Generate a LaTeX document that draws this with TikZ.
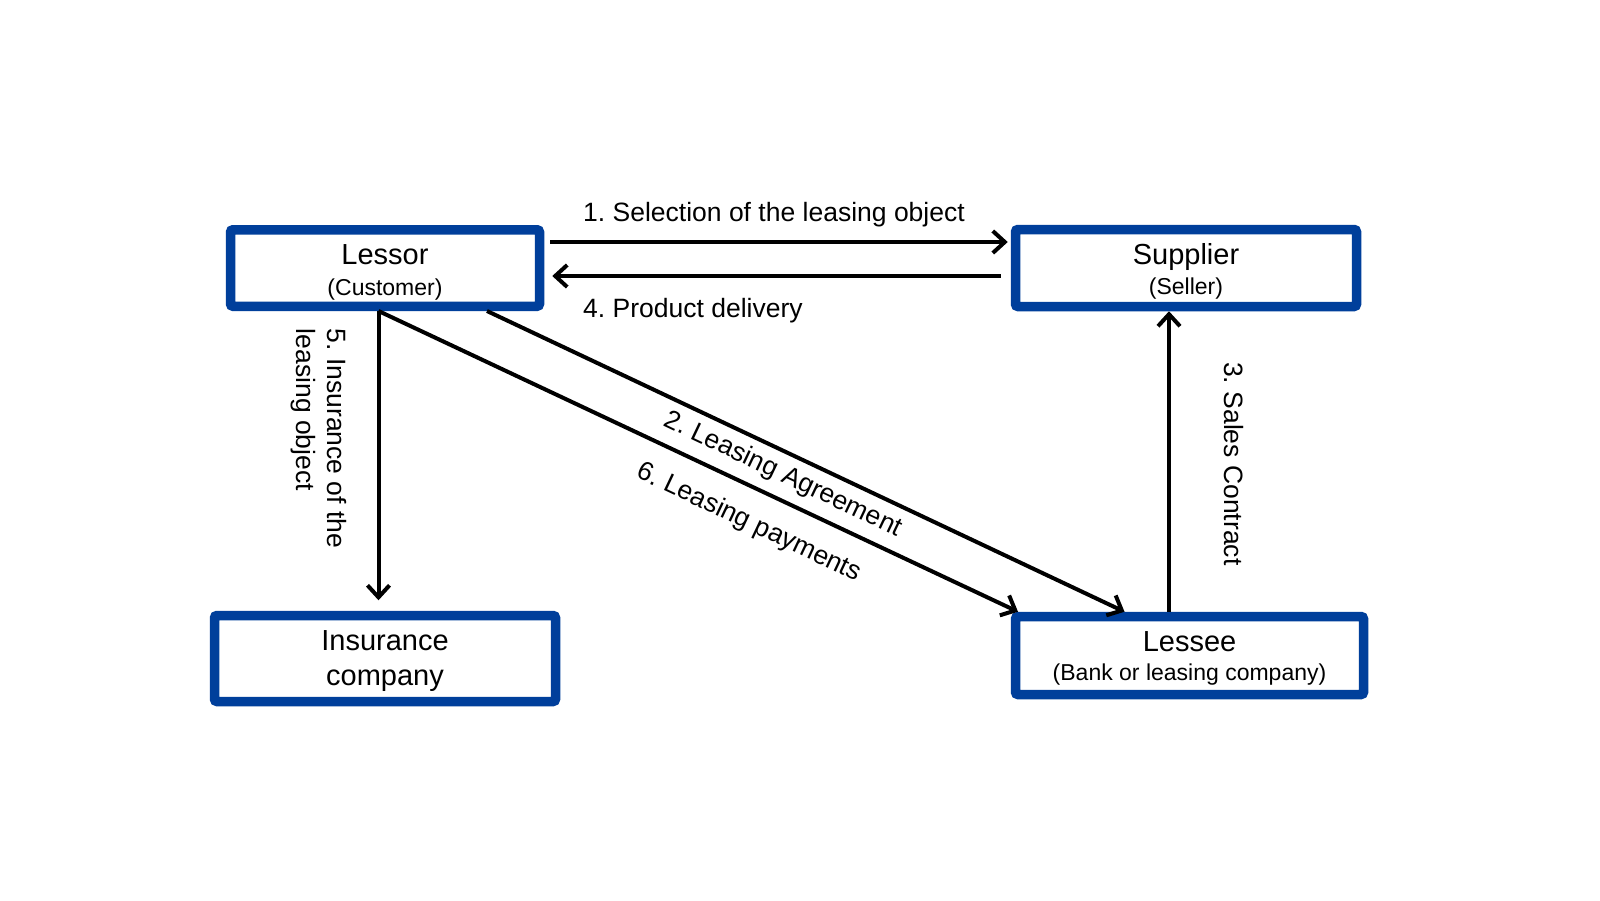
\documentclass[tikz,border=0pt]{standalone}
\usepackage{fontspec}
\setmainfont{Liberation Sans}
\usetikzlibrary{arrows.meta}
\definecolor{boxblue}{RGB}{0,63,155}
\frenchspacing
\begin{document}
\begin{tikzpicture}[x=1pt,y=-1pt,
  bluebox/.style={draw=boxblue, line width=9.5pt, fill=white, rounded corners=2.5pt, inner sep=0pt},
  ttl/.style={font=\fontsize{29}{33}\selectfont, inner sep=0pt, anchor=base},
  subtxt/.style={font=\fontsize{23}{27}\selectfont, inner sep=0pt, anchor=base},
  elab/.style={font=\fontsize{26.5}{32}\selectfont, inner sep=0pt},
  arr/.style={line width=4pt, -{Straight Barb[length=12pt,width=22pt]}}]
\useasboundingbox (0,0) rectangle (1600,900);
\fill[white] (0,0) rectangle (1600,900);

% boxes
\node[bluebox, minimum width=309pt, minimum height=76.5pt] (lessor) at (385,268) {};
\node[bluebox, minimum width=341pt, minimum height=77pt] (supplier) at (1186,268) {};
\node[bluebox, minimum width=341pt, minimum height=86pt] (insurance) at (385,658.5) {};
\node[bluebox, minimum width=348pt, minimum height=78pt] (lessee) at (1189.5,655.5) {};

% box texts
\node[ttl] (lessorT) at ([yshift=4pt]lessor.center) {Lessor};
\node[subtxt] (lessorS) at ([yshift=-27pt]lessor.center) {(Customer)};
\node[ttl] (supplierT) at ([yshift=4pt]supplier.center) {Supplier};
\node[subtxt] (supplierS) at ([yshift=-26pt]supplier.center) {(Seller)};
\node[ttl] (insuranceT) at ([yshift=7.8pt]insurance.center) {Insurance};
\node[ttl] (insuranceS) at ([yshift=-26.5pt]insurance.center) {company};
\node[ttl] (lesseeT) at ([yshift=3.8pt]lessee.center) {Lessee};
\node[subtxt] (lesseeS) at ([yshift=-25pt]lessee.center) {(Bank or leasing company)};

% connectors
\draw[arr, shorten <=6pt, shorten >=3pt] (lessor.east |- 0,242) -- (supplier.west |- 0,242);
\draw[arr, shorten <=10pt, shorten >=8pt] (supplier.west |- 0,276) -- (lessor.east |- 0,276);
\draw[arr, shorten >=10.5pt] (lessor.south -| 378.5,0) -- (insurance.north -| 378.5,0);
\draw[arr] (lessor.south -| 378.5,0) -- (lessee.north -| 1018,0);
\draw[arr] (lessor.south -| 487,0) -- (lessee.north -| 1124.5,0);
\draw[arr] (lessee.north -| 1169,0) -- (supplier.south -| 1169,0);

% connector labels
\node[elab, anchor=base west] (l1) at (583,221) {1. Selection of the leasing object};
\node[elab, anchor=base west] (l4) at (583,317) {4. Product delivery};
\node[elab, rotate=-25.4] (l2) at (783,475) {2. Leasing Agreement};
\node[elab, rotate=-25.3] (l6) at (749,523) {6. Leasing payments};
\node[elab, rotate=-90, anchor=base west] (l3) at (1224.6,362) {3. Sales Contract};
\node[elab, rotate=-90, anchor=base west] (l5a) at (327.5,328.6) {5. Insurance of the};
\node[elab, rotate=-90, anchor=base west] (l5b) at (296,328.6) {leasing object};
\end{tikzpicture}
\end{document}
